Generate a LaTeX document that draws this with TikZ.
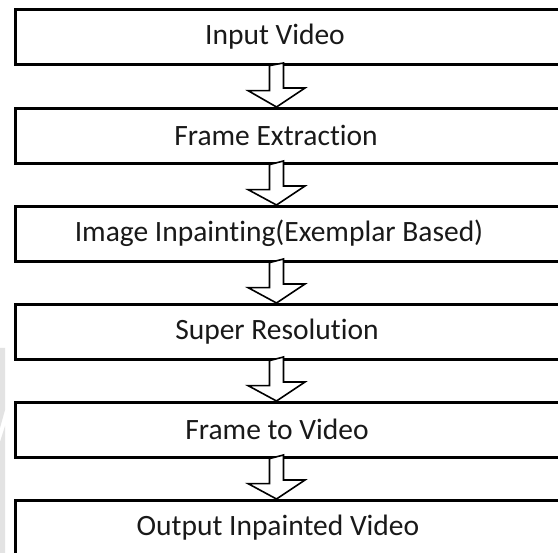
\documentclass[tikz,border=0pt]{standalone}
\usepackage{fontspec}
\setmainfont{Carlito}[Ligatures={NoCommon}]
\begin{document}
\begin{tikzpicture}[x=1pt,y=-1pt,
  stage/.style={draw=black, line width=2.6pt, fill=white, rectangle,
    minimum width=560pt, minimum height=55pt, anchor=north west, inner sep=0pt},
  label/.style={font=\fontsize{29.5}{34}\selectfont, text=black!90, inner sep=0pt},
  hollow/.style={draw=black, line width=1.6pt, fill=white, line join=miter}]
  \clip (0,0) rectangle (558,553);
  \fill[white] (0,0) rectangle (558,553);

  % faint grey mark along the lower left edge
  \fill[black!11] (0,348) -- (5,348) -- (5,410) -- (0,428) -- cycle;
  \fill[black!11] (0,442) -- (5,426) -- (5,553) -- (0,553) -- cycle;

  \coordinate (axis) at (276.5,0);

  % stages, top to bottom
  \node[stage] (s1) at (14,8)   {};
  \node[stage] (s2) at (14,107) {};
  \node[stage] (s3) at (14,205) {};
  \node[stage] (s4) at (14,303) {};
  \node[stage] (s5) at (14,401) {};
  \node[stage] (s6) at (14,499) {};

  \node[label] (t1) at (275,36.5)  {Input Video};
  \node[label] (t2) at (276,135.5) {Frame Extraction};
  \node[label] (t3) at (279,233.5) {Image Inpainting(Exemplar Based)};
  \node[label] (t4) at (277,331.5) {Super Resolution};
  \node[label] (t5) at (277,429.5) {Frame to Video};
  \node[label] (t6) at (278,527.5) {Output Inpainted Video};

  % hollow block arrows between consecutive stages
  \foreach \a/\b in {s1/s2, s2/s3, s3/s4, s4/s5, s5/s6}{
    \draw[hollow] (\a.south -| axis) ++(-7,0) -- ++(0,25) -- ++(-21.5,0)
      -- (\b.north -| axis) -- ++(28.5,-19) -- ++(-21.5,0) -- ++(0,-25) -- cycle;
  }
\end{tikzpicture}
\end{document}
